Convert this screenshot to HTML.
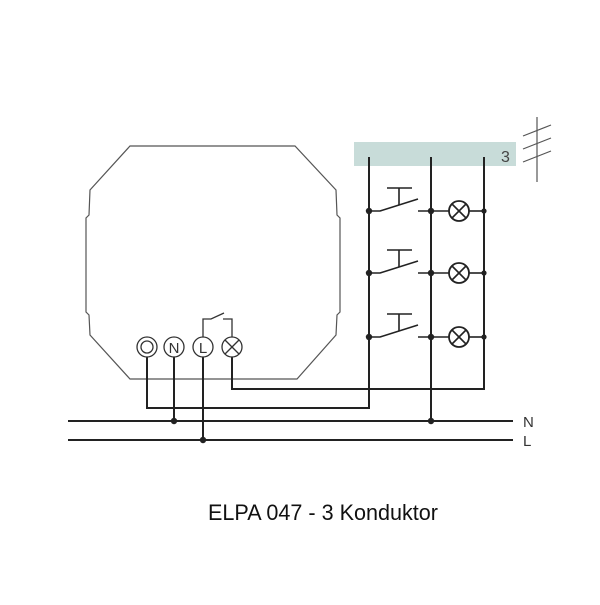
<!DOCTYPE html>
<html><head><style>html,body{margin:0;padding:0;background:#fff}</style></head>
<body>
<svg width="600" height="600" viewBox="0 0 600 600" xmlns="http://www.w3.org/2000/svg" font-family="Liberation Sans, sans-serif">
<rect width="600" height="600" fill="#fff"/>
<path d="M130,146 L295,146 L336,190 L337,215 L340,218 L340,312 L337,315 L336,335 L297,379 L130,379 L90,335 L89,315 L86,312 L86,218 L89,215 L90,190 Z" fill="none" stroke="#555" stroke-width="1.2"/>
<rect x="354" y="142" width="162" height="24" fill="#c8dcd9"/>
<text x="501" y="162" font-size="16" fill="#444">3</text>
<g stroke="#555" stroke-width="1.2">
<line x1="537" y1="117" x2="537" y2="182"/>
<line x1="523" y1="136" x2="551" y2="125"/>
<line x1="523" y1="149" x2="551" y2="138"/>
<line x1="523" y1="162" x2="551" y2="151"/>
</g>
<g stroke="#222" stroke-width="2" fill="none">
<polyline points="369,157 369,408 147,408 147,357"/>
<line x1="431" y1="157" x2="431" y2="421"/>
<polyline points="484,157 484,389 232,389 232,357"/>
<line x1="174" y1="357" x2="174" y2="421"/>
<line x1="203" y1="357" x2="203" y2="440"/>
<line x1="68" y1="421" x2="513" y2="421"/>
<line x1="68" y1="440" x2="513" y2="440"/>
</g>
<g fill="#222">
<circle cx="174" cy="421" r="3.2"/><circle cx="203" cy="440" r="3.2"/><circle cx="431" cy="421" r="3.2"/>
</g>
<g id="row">
<g stroke="#222" stroke-width="1.6" fill="none">
<polyline points="369,211 380,211 418,199"/>
<line x1="418" y1="211" x2="449" y2="211"/>
<line x1="469" y1="211" x2="484" y2="211"/>
<line x1="387" y1="188" x2="412" y2="188"/>
<line x1="399" y1="188" x2="399" y2="205"/>
<circle cx="459" cy="211" r="10" stroke-width="1.8"/>
<line x1="452" y1="204" x2="466" y2="218"/>
<line x1="452" y1="218" x2="466" y2="204"/>
</g>
<circle cx="369" cy="211" r="3.2" fill="#222"/>
<circle cx="431" cy="211" r="3.2" fill="#222"/>
<circle cx="484" cy="211" r="2.6" fill="#222"/>
</g>
<use href="#row" y="62"/>
<use href="#row" y="126"/>
<g stroke="#333" stroke-width="1.3" fill="none">
<circle cx="147" cy="347" r="10"/><circle cx="147" cy="347" r="6"/>
<circle cx="174" cy="347" r="10"/>
<circle cx="203" cy="347" r="10"/>
<circle cx="232" cy="347" r="10"/>
<line x1="225" y1="340" x2="239" y2="354"/><line x1="225" y1="354" x2="239" y2="340"/>
<polyline points="203,337 203,319 211,319 224,313"/>
<polyline points="232,337 232,319 223,319"/>
</g>
<text x="174" y="353" font-size="15" text-anchor="middle" fill="#333">N</text>
<text x="203" y="353" font-size="15" text-anchor="middle" fill="#333">L</text>
<text x="523" y="427" font-size="15" fill="#333">N</text>
<text x="523" y="446" font-size="15" fill="#333">L</text>
<text x="208" y="520" font-size="22" textLength="230" lengthAdjust="spacingAndGlyphs" fill="#111">ELPA 047 - 3 Konduktor</text>
</svg>
</body></html>
